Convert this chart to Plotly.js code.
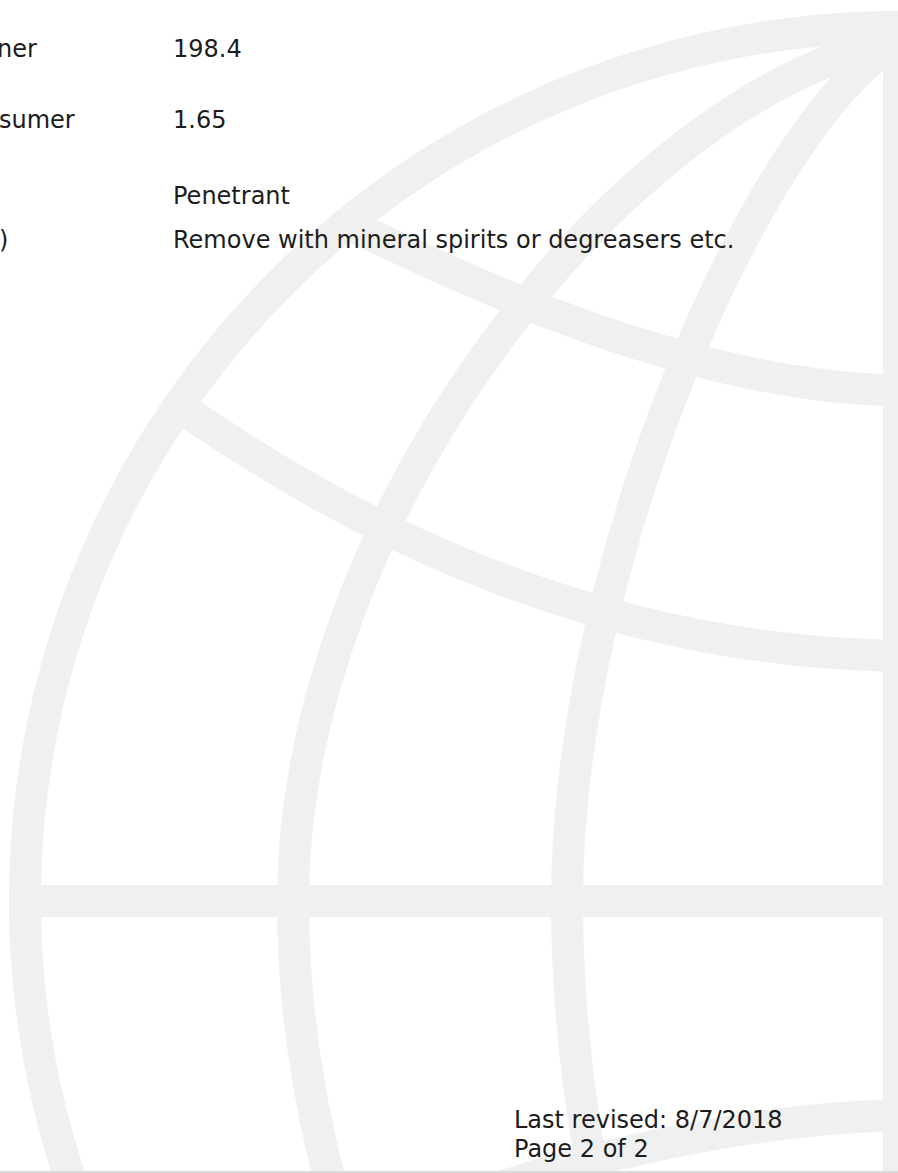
<!DOCTYPE html>
<html>
<head>
<meta charset="utf-8">
<script src="https://cdn.plot.ly/plotly-3.0.1.min.js"></script>
<style>
  html, body { margin: 0; padding: 0; background: #ffffff; }
  #chart { width: 898px; height: 1173px; }
</style>
</head>
<body>
<div id="chart"></div>
<script>
// ---- Page content (text values) ----
const rowLabels = ["ner", "sumer", "", ")"];
const rowValues = ["198.4", "1.65", "Penetrant", "Remove with mineral spirits or degreasers etc."];
const footerLines = ["Last revised: 8/7/2018", "Page 2 of 2"];

// ---- Layout helpers (positions / styles, not data) ----
const W = 898, H = 1173;
const FONT = "DejaVu Sans, Verdana, sans-serif";
const FS = 24;
const TEXT_COLOR = "#1c1c1c";
const BAND = "#f0f0f0";
const BAND_W = 32;

const rowBaselines = [57, 128, 204, 248];
const labelRightEdges = [37, 75, 0, 8];
const valueX = 173;
const footerX = 514;
const footerBaselines = [1128, 1157];

// ---- Decorative globe watermark (pixel-space cubic Bezier paths) ----
const globeCenter = [899, 901];
const globeR = 874;
const decoCurves = [
  // meridian B (upper, lower)
  [[293,901],[293,520],[620,95],[899,40]],
  [[293,901],[293,1010],[310,1110],[335,1200]],
  // meridian A (upper, lower)
  [[567,901],[567,560],[760,120],[899,40]],
  [[567,901],[567,1010],[580,1110],[598,1200]],
  // latitudes
  [[340,220],[480,288],[700,391],[915,391]],
  [[176,404],[300,490],[560,656],[915,656]],
  [[915,1115],[760,1115],[560,1160],[440,1210]]
];

function bezierPath(c) {
  return "M" + c[0].join(",") + " C" + c[1].join(",") + " " + c[2].join(",") + " " + c[3].join(",");
}
function circlePath(c, r, a0, a1, n) {
  let d = "";
  for (let i = 0; i <= n; i++) {
    const a = (a0 + (a1 - a0) * i / n) * Math.PI / 180;
    const x = c[0] + r * Math.cos(a), y = c[1] - r * Math.sin(a);
    d += (i === 0 ? "M" : " L") + x.toFixed(1) + "," + y.toFixed(1);
  }
  return d;
}

const bandLine = { color: BAND, width: BAND_W };
const shapes = [
  { type: "path", xref: "x", yref: "y", layer: "below", path: circlePath(globeCenter, globeR, 80, 210, 260), line: bandLine },
  { type: "line", xref: "x", yref: "y", layer: "below", x0: 899, x1: 899, y0: 40, y1: 1200, line: bandLine },
  { type: "line", xref: "x", yref: "y", layer: "below", x0: 25, x1: 915, y0: 901, y1: 901, line: bandLine }
];
decoCurves.forEach(c => shapes.push({ type: "path", xref: "x", yref: "y", layer: "below", path: bezierPath(c), line: bandLine }));
shapes.push({ type: "line", xref: "x", yref: "y", layer: "above", x0: 0, x1: W, y0: 1172, y1: 1172, line: { color: "#d9d9d9", width: 2 } });

const BASE_OFF = 8; // baseline offset from text-box middle
const annotations = [];
function addText(t, x, baseline, anchor) {
  annotations.push({ x: x, y: baseline - BASE_OFF, xref: "x", yref: "y", text: t,
    showarrow: false, xanchor: anchor, yanchor: "middle", borderpad: 0, borderwidth: 0,
    font: { family: FONT, size: FS, color: TEXT_COLOR } });
}
rowLabels.forEach((t, i) => { if (t) addText(t, labelRightEdges[i], rowBaselines[i], "right"); });
rowValues.forEach((t, i) => addText(t, valueX, rowBaselines[i], "left"));
footerLines.forEach((t, i) => addText(t, footerX, footerBaselines[i], "left"));

const layout = {
  width: W, height: H,
  margin: { l: 0, r: 0, t: 0, b: 0, pad: 0 },
  paper_bgcolor: "#ffffff", plot_bgcolor: "#ffffff",
  showlegend: false,
  xaxis: { range: [0, W], visible: false, fixedrange: true },
  yaxis: { range: [H, 0], visible: false, fixedrange: true },
  shapes: shapes,
  annotations: annotations
};

Plotly.newPlot("chart", [], layout, { staticPlot: true, displayModeBar: false });
</script>
</body>
</html>
